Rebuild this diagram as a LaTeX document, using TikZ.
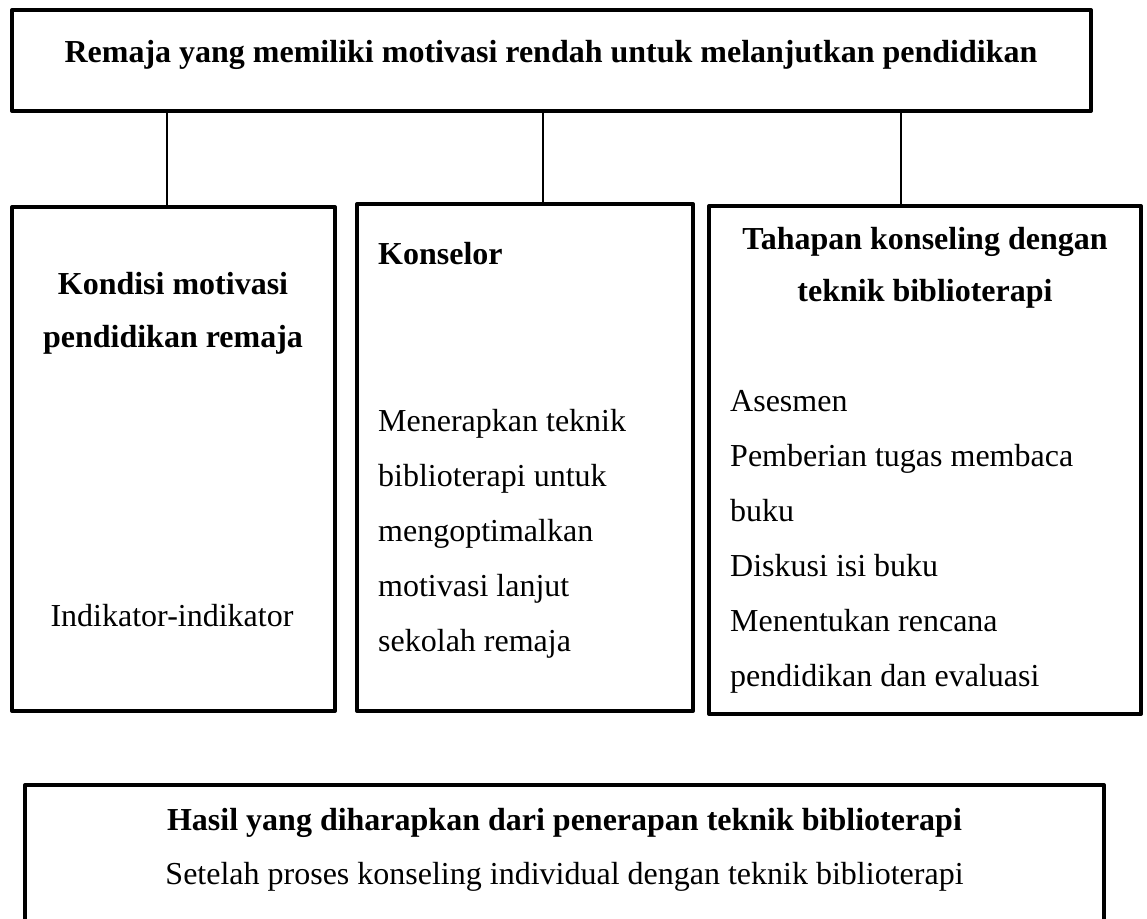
\documentclass[tikz,border=0pt]{standalone}
\usepackage{fontspec}
\setmainfont{Liberation Serif}
\usetikzlibrary{positioning}

\begin{document}
\begin{tikzpicture}[x=1pt,y=1pt,
	box/.style={rectangle, draw, line width=4pt, line join=round, inner sep=0pt, outer sep=0pt},
	link/.style={line width=1.5pt},
	head/.style={font=\fontsize{32}{53}\selectfont\bfseries, inner sep=0pt},
	body/.style={font=\fontsize{32}{55}\selectfont, inner sep=0pt}]
	\useasboundingbox (0,0) rectangle (1147,918);
	\clip (0,0) rectangle (1147,918);

	% boxes
	\node[box, minimum width=1079pt, minimum height=101pt] (top) at (551.5,857.5) {};
	\node[box, minimum width=323pt, minimum height=504pt] (kondisi) at (173.5,459) {};
	\node[box, minimum width=336pt, minimum height=507pt] (konselor) at (525,460.5) {};
	\node[box, minimum width=432pt, minimum height=508pt] (tahapan) at (925,458) {};
	\node[box, minimum width=1079pt, minimum height=175pt] (hasil) at (564.5,45.5) {};

	% texts (base = last line)
	\node[head, anchor=base] (remaja) at (551,855) {Remaja yang memiliki motivasi rendah untuk melanjutkan pendidikan};
	\node[head, anchor=base, align=center] (kondisiT) at (173,570) {Kondisi motivasi\\pendidikan remaja};
	\node[body, anchor=base] (indikator) at (172,291) {Indikator-indikator};
	\node[head, anchor=base west] (konselorT) at (378,653) {Konselor};
	\node[body, anchor=base west, align=left] (terapkan) at (378,266) {Menerapkan teknik\\biblioterapi untuk\\mengoptimalkan\\motivasi lanjut\\sekolah remaja};
	\node[head, anchor=base, align=center] (tahapanT) at (925,616) {Tahapan konseling dengan\\[-1pt]teknik biblioterapi};
	\node[body, anchor=base west, align=left] (langkah) at (730,231) {Asesmen\\Pemberian tugas membaca\\buku\\Diskusi isi buku\\Menentukan rencana\\pendidikan dan evaluasi};
	\node[head, anchor=base] (hasilT) at (564.5,88) {Hasil yang diharapkan dari penerapan teknik biblioterapi};
	\node[body, anchor=base] (setelah) at (564.5,34) {Setelah proses konseling individual dengan teknik biblioterapi};

	% connectors
	\coordinate (l1) at (167,0);
	\coordinate (l2) at (543,0);
	\coordinate (l3) at (901,0);
	\draw[link] (top.south -| l1) -- (kondisi.north -| l1);
	\draw[link] (top.south -| l2) -- (konselor.north -| l2);
	\draw[link] (top.south -| l3) -- (tahapan.north -| l3);
\end{tikzpicture}
\end{document}
